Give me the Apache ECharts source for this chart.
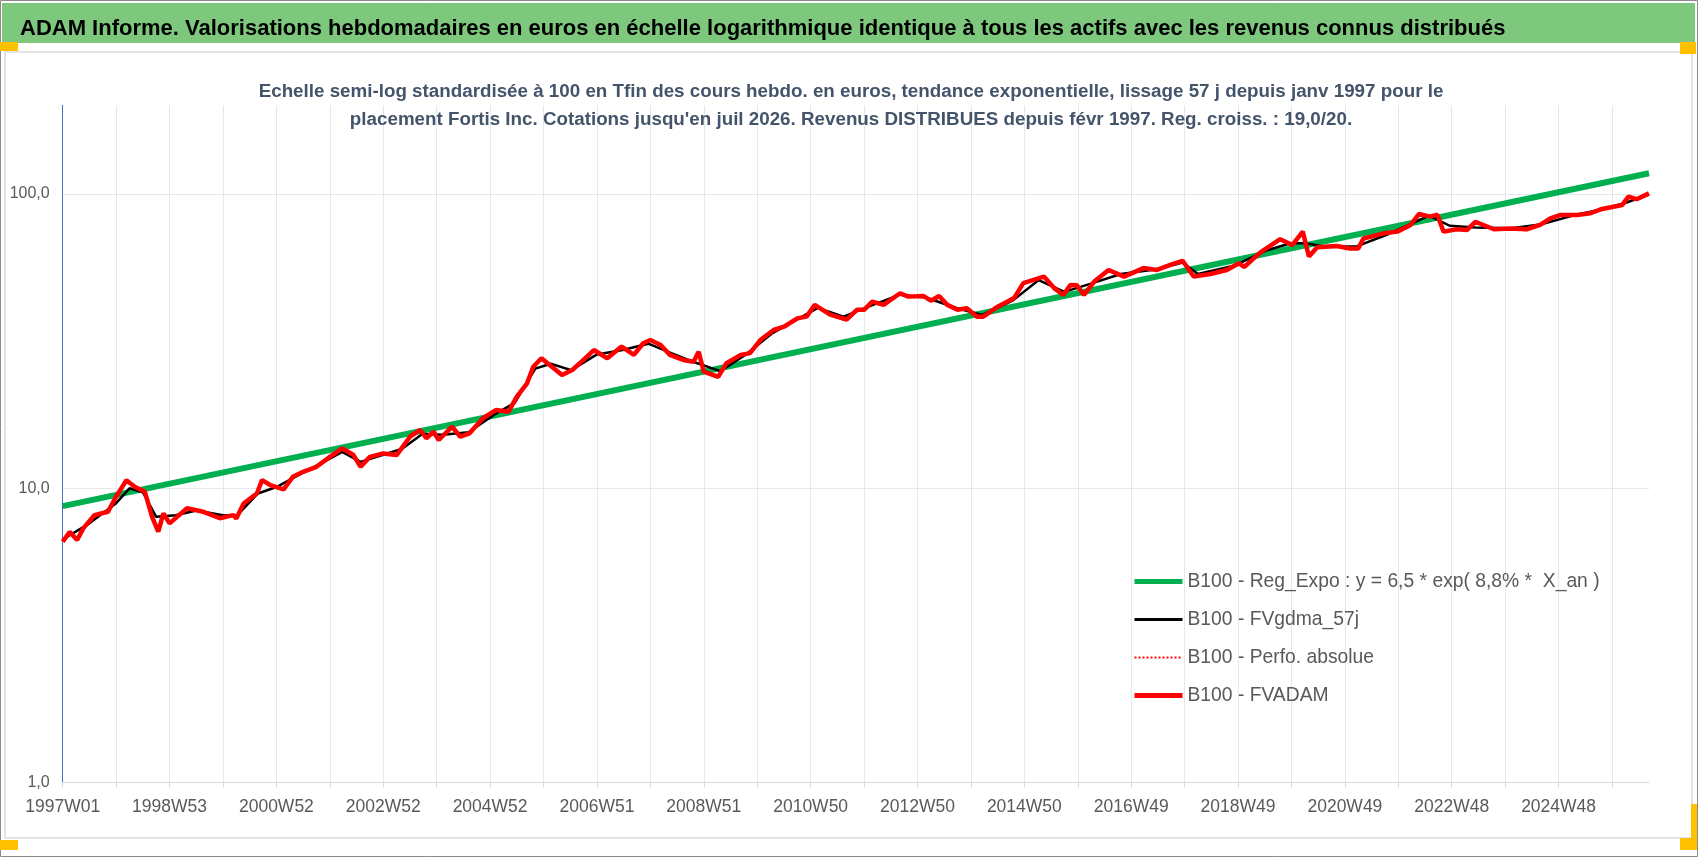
<!DOCTYPE html>
<html>
<head>
<meta charset="utf-8">
<title>ADAM Informe</title>
<script src="https://cdn.jsdelivr.net/npm/echarts@6/dist/echarts.min.js"></script>
<style>
  html, body { margin: 0; padding: 0; background: #fff; }
  #main { width: 1698px; height: 857px; }
</style>
</head>
<body>
<div id="main"></div>
<script>
// week index 0 = 1997W01
const lastWeek = 1544
const regWeeks = [0, 1544]
const regValues = [8.7, 117.6]

const fvadamWeeks = [0, 7, 14, 20, 31, 44, 51, 62, 70, 80, 87, 93, 98, 104, 121, 137, 153, 166, 169, 176,
  189, 194, 202, 215, 224, 234, 247, 260, 272, 283, 290, 299, 312, 325, 338, 348, 354, 361, 366, 379,
  387, 396, 409, 422, 434, 442, 452, 458, 466, 474, 486, 496, 505, 517, 530, 544, 556, 565, 572, 582,
  591, 604, 614, 619, 624, 638, 646, 660, 669, 679, 692, 702, 715, 724, 732, 747, 763, 773, 780, 788,
  799, 815, 823, 838, 845, 853, 861, 871, 880, 890, 896, 910, 926, 935, 945, 955, 965, 974, 981, 987,
  994, 1004, 1018, 1033, 1052, 1065, 1078, 1090, 1101, 1117, 1133, 1145, 1150, 1163, 1169, 1185, 1197, 1207, 1213, 1221,
  1240, 1253, 1261, 1266, 1286, 1299, 1312, 1320, 1331, 1338, 1344, 1357, 1367, 1375, 1393, 1409, 1425, 1438, 1448, 1458,
  1474, 1487, 1497, 1507, 1518, 1524, 1532, 1544]
const fvadamValues = [6.59, 7.11, 6.67, 7.31, 8.11, 8.32, 9.23, 10.66, 10.12, 9.73, 8.0, 7.12, 8.22, 7.6, 8.55, 8.32, 7.91, 8.11, 7.9, 8.87,
  9.6, 10.66, 10.26, 9.91, 10.94, 11.38, 11.83, 12.79, 13.67, 12.97, 11.83, 12.79, 13.14, 12.97, 14.97, 15.78, 14.79, 15.57, 14.59, 16.19,
  14.97, 15.38, 17.3, 18.46, 18.21, 20.48, 22.74, 25.89, 27.66, 26.25, 24.27, 25.23, 26.93, 29.5, 27.66, 30.3, 28.4, 31.1, 31.9, 30.7,
  28.4, 27.3, 26.9, 29.1, 24.9, 23.9, 26.6, 28.4, 28.8, 31.9, 34.5, 35.4, 37.8, 38.3, 42.0, 38.9, 37.4, 40.4, 40.4, 43.1,
  42.0, 46.0, 44.8, 45.0, 43.4, 45.0, 42.0, 40.4, 40.9, 38.3, 38.3, 41.4, 44.3, 49.8, 51.1, 52.4, 47.9, 45.4, 49.1, 49.0,
  45.4, 50.4, 55.2, 52.4, 56.0, 55.2, 57.4, 59.3, 52.4, 53.5, 55.2, 58.2, 56.5, 62.1, 64.5, 70.2, 67.1, 74.5, 61.3, 65.9,
  66.6, 65.3, 65.3, 70.6, 73.5, 74.5, 78.5, 85.5, 83.8, 85.0, 74.5, 75.9, 75.5, 80.5, 75.9, 76.4, 75.9, 78.5, 82.7, 84.9,
  84.9, 86.0, 88.7, 90.1, 91.8, 98.0, 96.0, 100.5]

const gdmaWeeks = [0, 26, 52, 65, 78, 91, 110, 130, 156, 170, 190, 208, 234, 260, 272, 290, 312, 330, 350, 370,
  395, 420, 440, 460, 475, 495, 520, 545, 570, 590, 615, 640, 665, 690, 715, 735, 760, 785, 815, 840,
  870, 895, 925, 950, 975, 1000, 1030, 1065, 1090, 1105, 1140, 1170, 1195, 1210, 1230, 1260, 1290, 1315, 1330, 1350,
  1375, 1410, 1440, 1470, 1500, 1520, 1544]
const gdmaValues = [6.7, 7.6, 8.9, 10.0, 9.7, 8.0, 8.1, 8.4, 8.1, 8.1, 9.6, 10.1, 11.3, 12.6, 13.3, 12.3, 13.0, 13.6, 15.3, 15.2,
  15.5, 17.8, 19.5, 25.5, 26.5, 25.2, 28.5, 29.5, 31.0, 29.0, 26.8, 25.0, 28.5, 33.5, 37.5, 41.0, 38.3, 41.5, 45.5, 44.5,
  41.0, 38.8, 43.5, 51.0, 46.5, 49.5, 53.5, 55.5, 58.5, 53.5, 57.0, 64.0, 68.0, 68.0, 66.0, 66.5, 73.0, 80.0, 84.5, 78.0,
  77.0, 76.5, 79.0, 84.5, 89.0, 93.0, 99.5]

const yTicks = [1, 10, 100]

const FONT = "'Liberation Sans', Arial, sans-serif"

const nameReg = 'B100 - Reg_Expo : y = 6,5 * exp( 8,8% *  X_an )'
const nameGdma = 'B100 - FVgdma_57j'
const namePerfo = 'B100 - Perfo. absolue'
const nameAdam = 'B100 - FVADAM'

function zip(xs, ys) {
    return xs.map((x, i) => [x, ys[i]])
}

// libellé semaine ISO pour l'indice (0 = lundi 30 déc 1996)
function weekLabel(i) {
    let d = new Date(Date.UTC(1996, 11, 30 + 7 * i + 3))
    let year = d.getUTCFullYear()
    let doy = Math.round((d - Date.UTC(year, 0, 1)) / 86400000)
    let w = Math.floor(doy / 7) + 1
    return year + 'W' + (w < 10 ? '0' + w : w)
}

const chart = echarts.init(document.getElementById('main'))

chart.setOption({
    animation: false,
    backgroundColor: '#fff',
    graphic: [
        { type: 'rect', shape: { x: 0.5, y: 0.5, width: 1697, height: 856 }, style: { fill: 'none', stroke: '#8a8a8a', lineWidth: 1 } },
        { type: 'rect', shape: { x: 2, y: 3, width: 1693, height: 40 }, style: { fill: '#7ec87e' } },
        { type: 'rect', shape: { x: 5, y: 52, width: 1687, height: 786 }, style: { fill: 'none', stroke: '#e3e3e3', lineWidth: 2 } },
        { type: 'rect', shape: { x: 0, y: 42, width: 18, height: 9 }, style: { fill: '#ffc000' } },
        { type: 'rect', shape: { x: 1680, y: 42, width: 16, height: 12 }, style: { fill: '#ffc000' } },
        { type: 'rect', shape: { x: 0, y: 840, width: 18, height: 10 }, style: { fill: '#ffc000' } },
        { type: 'rect', shape: { x: 1691, y: 804, width: 6, height: 46 }, style: { fill: '#ffc000' } },
        { type: 'rect', shape: { x: 1680, y: 838, width: 17, height: 12 }, style: { fill: '#ffc000' } }
    ],
    title: [
        {
            text: 'ADAM Informe. Valorisations hebdomadaires en euros en échelle logarithmique identique à tous les actifs avec les revenus connus distribués',
            left: 15,
            top: 13,
            textStyle: { fontFamily: FONT, fontSize: 22, fontWeight: 'bold', color: '#000' }
        },
        {
            text: 'Echelle semi-log standardisée à 100 en Tfin des cours hebdo. en euros, tendance exponentielle, lissage 57 j depuis janv 1997 pour le\nplacement Fortis Inc. Cotations jusqu\'en juil 2026. Revenus DISTRIBUES depuis févr 1997. Reg. croiss. : 19,0/20.',
            left: 846,
            top: 73,
            textAlign: 'center',
            textStyle: { fontFamily: FONT, fontSize: 18.8, fontWeight: 'bold', color: '#44546a', lineHeight: 28, align: 'center' }
        }
    ],
    legend: {
        orient: 'vertical',
        left: 1127,
        top: 567,
        itemWidth: 48,
        itemHeight: 14,
        itemGap: 19,
        itemStyle: { opacity: 0 },
        textStyle: { fontFamily: FONT, fontSize: 19.3, color: '#595959' },
        data: [
            { name: nameReg, lineStyle: { width: 5 } },
            { name: nameGdma, lineStyle: { width: 3 } },
            { name: namePerfo, lineStyle: { width: 2 } },
            { name: nameAdam, lineStyle: { width: 5 } }
        ]
    },
    grid: { left: 62.7, right: 49, top: 105.4, bottom: 74.4 },
    xAxis: {
        type: 'value',
        min: 0,
        max: lastWeek,
        interval: 52,
        axisLine: { lineStyle: { color: '#d9d9d9', width: 1 } },
        axisTick: { show: true, length: 5, lineStyle: { color: '#d9d9d9' } },
        splitLine: { show: true, showMaxLine: false, lineStyle: { color: '#e3e7ee', width: 1 } },
        axisLabel: {
            margin: 16,
            showMaxLabel: false,
            fontFamily: FONT,
            fontSize: 17.5,
            color: '#595959',
            formatter: function (v) {
                return v % 104 === 0 ? weekLabel(v) : ''
            }
        }
    },
    yAxis: {
        type: 'log',
        logBase: 10,
        min: yTicks[0],
        max: 200,
        axisLine: { show: true, lineStyle: { color: '#4472c4', width: 1 } },
        axisTick: { show: false },
        splitLine: { show: true, showMaxLine: false, lineStyle: { color: '#e3e7ee', width: 1 } },
        axisLabel: {
            margin: 13,
            showMaxLabel: false,
            fontFamily: FONT,
            fontSize: 16,
            color: '#595959',
            formatter: function (v) {
                return yTicks.indexOf(Math.round(v * 1000) / 1000) >= 0 ? v.toFixed(1).replace('.', ',') : ''
            }
        }
    },
    series: [
        {
            name: nameReg,
            type: 'line',
            symbol: 'none',
            data: zip(regWeeks, regValues),
            lineStyle: { color: '#00b050', width: 6 },
            itemStyle: { color: '#00b050' }
        },
        {
            name: nameGdma,
            type: 'line',
            symbol: 'none',
            data: zip(gdmaWeeks, gdmaValues),
            lineStyle: { color: '#000', width: 2.5 },
            itemStyle: { color: '#000' }
        },
        {
            name: namePerfo,
            type: 'line',
            symbol: 'none',
            data: zip(fvadamWeeks, fvadamValues),
            lineStyle: { color: '#ff0000', width: 1.5, type: 'dotted' },
            itemStyle: { color: '#ff0000' }
        },
        {
            name: nameAdam,
            type: 'line',
            symbol: 'none',
            data: zip(fvadamWeeks, fvadamValues),
            lineStyle: { color: '#ff0000', width: 4.5 },
            itemStyle: { color: '#ff0000' }
        }
    ]
})
</script>
</body>
</html>
